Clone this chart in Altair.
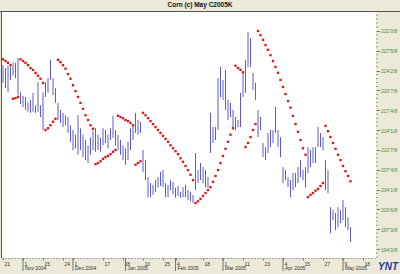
import altair as alt
import pandas as pd

# ---- data ----
high = [225.2, 224.7, 225.1, 224.9, 225.7, 225.6, 226.4, 220.6, 220.0, 219.8,
        218.9, 219.3, 220.5, 218.4, 222.3, 218.4, 220.6, 222.3, 223.0, 226.1,
        223.0, 221.3, 218.8, 217.6, 217.1, 216.7, 216.4, 215.0, 214.2, 213.4,
        216.7, 214.5, 213.4, 212.5, 211.6, 212.9, 214.0, 214.5, 213.4, 212.9,
        214.5, 214.2, 213.4, 214.5, 216.6, 214.2, 213.4, 212.5, 211.6, 211.1,
        212.2, 214.5, 214.9, 217.1, 215.9, 215.6, 210.8, 209.1, 206.2, 205.2,
        204.9, 205.7, 206.2, 207.1, 207.4, 205.2, 204.9, 205.7, 205.4, 204.4,
        204.7, 203.7, 204.5, 204.9, 204.0, 203.7, 203.2, 210.3, 207.4, 208.6,
        207.9, 207.4, 206.2, 217.1, 214.7, 214.7, 223.0, 224.9, 222.7, 224.4,
        219.3, 218.8, 217.6, 216.4, 215.9, 220.5, 223.9, 226.1, 230.8, 229.8,
        223.9, 222.2, 217.6, 216.4, 212.0, 211.3, 213.7, 214.2, 214.2, 218.1,
        214.2, 213.0, 207.9, 207.4, 206.2, 205.7, 206.9, 206.9, 207.9, 209.1,
        207.4, 207.9, 211.3, 210.8, 211.3, 211.3, 214.7, 213.7, 213.0, 209.1,
        207.4, 201.1, 200.6, 200.1, 201.1, 200.6, 202.3, 201.1, 199.4, 197.7]

low = [222.2, 221.3, 220.6, 222.7, 223.4, 223.0, 220.1, 218.6, 218.1, 217.6,
       217.3, 217.1, 217.3, 217.1, 217.3, 216.4, 214.2, 219.8, 220.5, 222.7,
       220.1, 218.8, 215.9, 215.4, 214.7, 215.0, 213.7, 212.2, 210.8, 211.1,
       210.0, 210.8, 209.6, 209.1, 208.6, 210.0, 210.8, 210.5, 210.8, 210.5,
       211.6, 212.0, 211.1, 212.5, 212.9, 211.6, 210.8, 210.0, 209.1, 208.3,
       209.1, 210.8, 212.5, 213.7, 213.4, 213.7, 207.1, 205.7, 202.8, 202.8,
       203.2, 203.7, 204.4, 204.7, 204.5, 202.8, 202.8, 204.0, 203.3, 202.7,
       203.0, 202.7, 202.8, 202.8, 202.3, 202.1, 201.8, 204.0, 205.2, 205.7,
       205.2, 204.5, 204.4, 210.3, 212.0, 212.5, 214.2, 219.8, 219.3, 217.6,
       215.9, 216.4, 214.7, 214.2, 214.7, 214.7, 219.8, 220.5, 224.9, 224.9,
       221.0, 219.3, 213.0, 214.2, 209.6, 209.1, 210.3, 211.3, 212.0, 213.7,
       211.3, 209.6, 205.2, 205.7, 204.5, 202.8, 204.0, 204.5, 205.2, 206.2,
       205.7, 204.5, 206.9, 207.9, 208.6, 208.6, 211.3, 211.3, 210.8, 204.0,
       203.5, 196.7, 198.9, 197.2, 197.7, 198.4, 198.9, 197.7, 197.2, 195.2]

sar = [226.2, 225.9, 225.6, 225.2, 219.5, 219.6, 219.8, 226.2, 225.9, 225.6,
       225.2, 224.7, 224.4, 223.9, 223.4, 222.9, 222.2, 214.2, 214.5, 215.0,
       215.6, 216.1, 226.1, 225.7, 225.2, 224.6, 223.7, 222.9, 221.8, 220.8,
       219.8, 218.8, 217.8, 216.7, 215.9, 215.0, 214.4, 208.4, 208.6, 208.9,
       209.3, 209.6, 209.8, 210.1, 210.5, 210.8, 216.6, 216.4, 216.2, 215.9,
       215.7, 215.4, 215.0, 208.3, 208.6, 208.9, 217.1, 216.7, 216.2, 215.7,
       215.2, 214.7, 214.2, 213.7, 213.2, 212.7, 212.2, 211.6, 211.1, 210.6,
       210.1, 209.4, 208.8, 208.1, 207.4, 206.6, 205.7, 201.8, 202.1, 202.5,
       203.0, 203.5, 204.0, 204.5, 205.4, 206.4, 207.4, 208.6, 209.8, 211.0,
       212.2, 213.4, 214.5, 225.1, 224.7, 224.4, 224.0, 211.3, 212.0, 213.0,
       214.2, 215.2, 231.0, 230.3, 229.5, 228.6, 227.8, 226.9, 225.9, 224.9,
       223.9, 222.7, 221.5, 220.3, 219.1, 218.0, 216.6, 215.2, 213.9, 212.5,
       211.1, 210.0, 202.8, 203.2, 203.5, 203.9, 204.2, 204.7, 205.2, 214.9,
       214.0, 213.0, 212.0, 211.0, 210.0, 209.1, 208.1, 207.2, 206.4, 205.5]

# x-axis tick labels (bar index -> day label)
x_tick_idx = [0, 8, 16, 24, 28, 40, 48, 56, 64, 69, 80, 88, 96, 104, 112, 120, 128, 136, 144]
x_tick_txt = ["21", "1", "15", "24", "1", "17", "28", "10", "25", "4", "18", "1",
              "11", "23", "4", "15", "27", "9", "18"]
month_idx = [8, 28, 49, 69, 88, 112, 136]
month_txt = ["Nov 2004", "Dec 2004", "Jan 2005", "Feb 2005", "Mar 2005", "Apr 2005", "May 2005"]

# y-axis labels
y_major = [231.0, 227.64, 224.27, 220.91, 217.55, 214.18, 210.82, 207.45, 204.09, 200.73, 197.36, 194.0]
y_major_txt = ["231'0/8", "227'5/8", "224'2/8", "220'7/8", "217'4/8", "214'1/8",
               "210'7/8", "207'4/8", "204'1/8", "200'6/8", "197'3/8", "194'0/8"]

TITLE = "Corn (c) May C2005K"

# ---- layout ----
W, H = 374, 246
YMIN, YMAX = 192.48, 234.22
FONT = "Liberation Sans"

step = 3.3636
minor = []
for m in y_major + [y_major[-1] - step]:
    for k in range(1, 5):
        minor.append(round(m + k * step / 5, 3))
minor = [v for v in minor if YMIN <= v <= YMAX]

ylabel_expr = (
    f"indexof({y_major}, datum.value) >= 0 ? "
    f"{y_major_txt}[indexof({y_major}, datum.value)] : ''"
)
xlabel_expr = (
    f"indexof({x_tick_idx}, datum.value) >= 0 ? "
    f"{x_tick_txt}[indexof({x_tick_idx}, datum.value)] : ''"
)

df = pd.DataFrame({"i": list(range(len(high))), "high": high, "low": low, "sar": sar})
mdf = pd.DataFrame({"i": month_idx, "m": month_txt})
tdf = pd.DataFrame({"v": minor})

xs = alt.Scale(domain=[-0.4, 149.2], nice=False, zero=False)
ys = alt.Scale(domain=[YMIN, YMAX], nice=False, zero=False)

x_axis = alt.Axis(values=x_tick_idx, labelExpr=xlabel_expr, tickCount=100, title=None)
y_axis = alt.Axis(orient="right", values=y_major, labelExpr=ylabel_expr, tickCount=100, title=None)

bars = alt.Chart(df).mark_rule(color="#5a5ad8", strokeWidth=1).encode(
    x=alt.X("i:Q", scale=xs, axis=x_axis),
    y=alt.Y("high:Q", scale=ys, axis=y_axis),
    y2="low:Q",
)

dots = alt.Chart(df).mark_square(color="#e31414", size=5.5, opacity=1).encode(
    x=alt.X("i:Q", scale=xs, title=None),
    y=alt.Y("sar:Q", scale=ys, title=None),
)

minor_ticks = alt.Chart(tdf).mark_rule(color="#888", strokeWidth=0.8).encode(
    y=alt.Y("v:Q", scale=ys, title=None),
    x=alt.value(W),
    x2=alt.value(W + 2),
)

month_marks = alt.Chart(mdf).mark_rule(color="#555", strokeWidth=0.8).encode(
    x=alt.X("i:Q", scale=xs, title=None),
    y=alt.value(H),
    y2=alt.value(H + 13),
)
month_text = alt.Chart(mdf).mark_text(
    align="left", baseline="middle", fontSize=5, font=FONT, color="#333", dx=2
).encode(
    x=alt.X("i:Q", scale=xs, title=None),
    y=alt.value(H + 10),
    text="m:N",
)

one = alt.Data(values=[{}])
top_line = alt.Chart(one).mark_rule(color="#555", strokeWidth=1).encode(
    x=alt.value(-2), x2=alt.value(W + 24), y=alt.value(-0.5))
left_line = alt.Chart(one).mark_rule(color="#555", strokeWidth=1).encode(
    x=alt.value(-0.5), y=alt.value(-0.5), y2=alt.value(H))
logo = alt.Chart(one).mark_text(
    text="YNT", fontSize=10, fontWeight="bold", fontStyle="italic", font=FONT,
    color="#23399a", align="center", baseline="middle"
).encode(x=alt.value(W + 12), y=alt.value(H + 9))

chart = alt.layer(bars, dots, minor_ticks, month_marks, month_text, top_line, left_line, logo).properties(
    width=W, height=H,
    title=alt.TitleParams(TITLE, fontSize=6.5, font=FONT, fontWeight="bold",
                          anchor="middle", frame="bounds", offset=3, color="#111"),
    autosize=alt.AutoSizeParams(type="none"),
    padding={"left": 2, "top": 12, "right": 24, "bottom": 16},
    background="#ece9d8",
).configure_view(
    stroke=None, fill="white"
).configure_axis(
    grid=False, labelOverlap=False, labelBound=False, labelFont=FONT, labelFontSize=5
).configure_axisX(
    domainDash=[1, 2], domainColor="#666", tickSize=2, tickColor="#777",
    labelColor="#333", labelAlign="left", labelOffset=1, labelPadding=1
).configure_axisY(
    domain=False, tickSize=3.5, tickColor="#777", labelColor="#3f8f3f", labelPadding=1
)

chart.save("out.html", embed_options={"renderer": "svg", "actions": False})
